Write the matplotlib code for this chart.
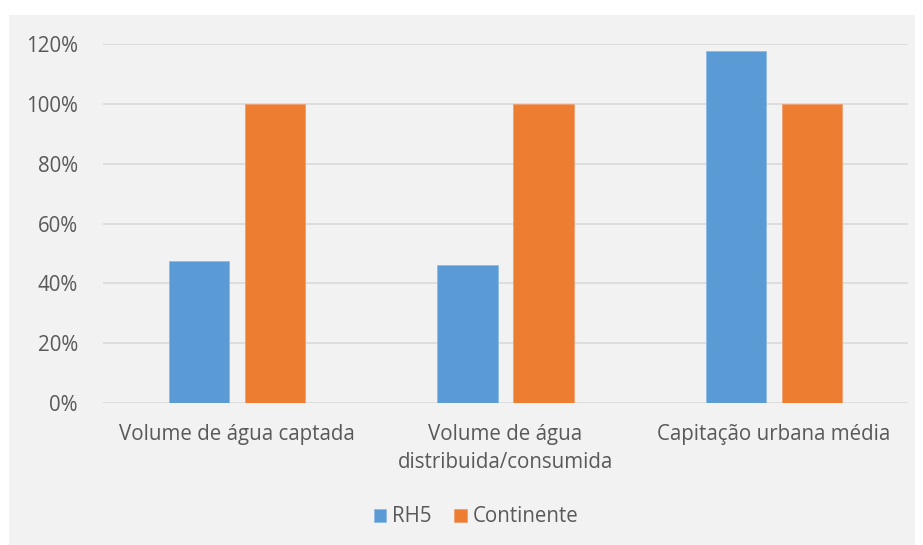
import numpy as np
import matplotlib.pyplot as plt
from matplotlib.patches import Rectangle

# DATA ==========================================================================================
categories = ['Volume de água captada', 'Volume de água\ndistribuida/consumida', 'Capitação urbana média']
rh5 = [47.5, 46.0, 117.7]
continente = [100, 100, 100]
yticks = [0, 20, 40, 60, 80, 100, 120]
# ===============================================================================================

plt.rcParams['font.family'] = ['Open Sans', 'DejaVu Sans']
TXT = '#595959'
BG = '#f2f2f2'
FS = 14.8

fig = plt.figure(figsize=(9.23, 5.45), dpi=100)
fig.patch.set_facecolor('white')
# gray chart area, behind the axes
fig.patches.append(Rectangle((9 / 923, 0), 906 / 923, 530 / 545, transform=fig.transFigure,
                             facecolor=BG, edgecolor='none', zorder=-5))

ax = fig.add_axes([103 / 923, 1 - 403 / 545, 805 / 923, 359 / 545])
ax.set_facecolor(BG)
ax.set_zorder(2)

x = np.arange(len(categories))
w = 0.224
off = 0.1416
ax.bar(x - off, rh5, w, color='#5b9bd5', edgecolor='#8fbbe3', linewidth=0.6, label='RH5', zorder=3)
ax.bar(x + off, continente, w, color='#ed7d31', edgecolor='#f0a070', linewidth=0.6, label='Continente', zorder=3)

ax.set_xlim(-0.5, len(categories) - 0.5)
ax.set_ylim(0, 120)
ax.set_yticks(yticks)
ax.set_yticklabels([f'{v}%' for v in yticks])
ax.yaxis.grid(True, color='#d9d9d9', linewidth=1.2, zorder=0)
ax.set_axisbelow(True)
for s in ax.spines.values():
    s.set_visible(False)
ax.tick_params(axis='both', length=0, labelsize=FS, colors=TXT)
ax.tick_params(axis='y', pad=18)
ax.tick_params(axis='x', pad=15)
ax.set_xticks(x)
ax.set_xticklabels(categories, linespacing=1.45)

leg = fig.legend(loc='center', bbox_to_anchor=(476 / 923, 1 - 517 / 545), ncol=2, frameon=False,
                 fontsize=FS, handlelength=0.6, handleheight=0.6, handletextpad=0.3, columnspacing=1.1)
for t in leg.get_texts():
    t.set_color(TXT)

plt.savefig('out.png', dpi=100, facecolor=fig.get_facecolor())
